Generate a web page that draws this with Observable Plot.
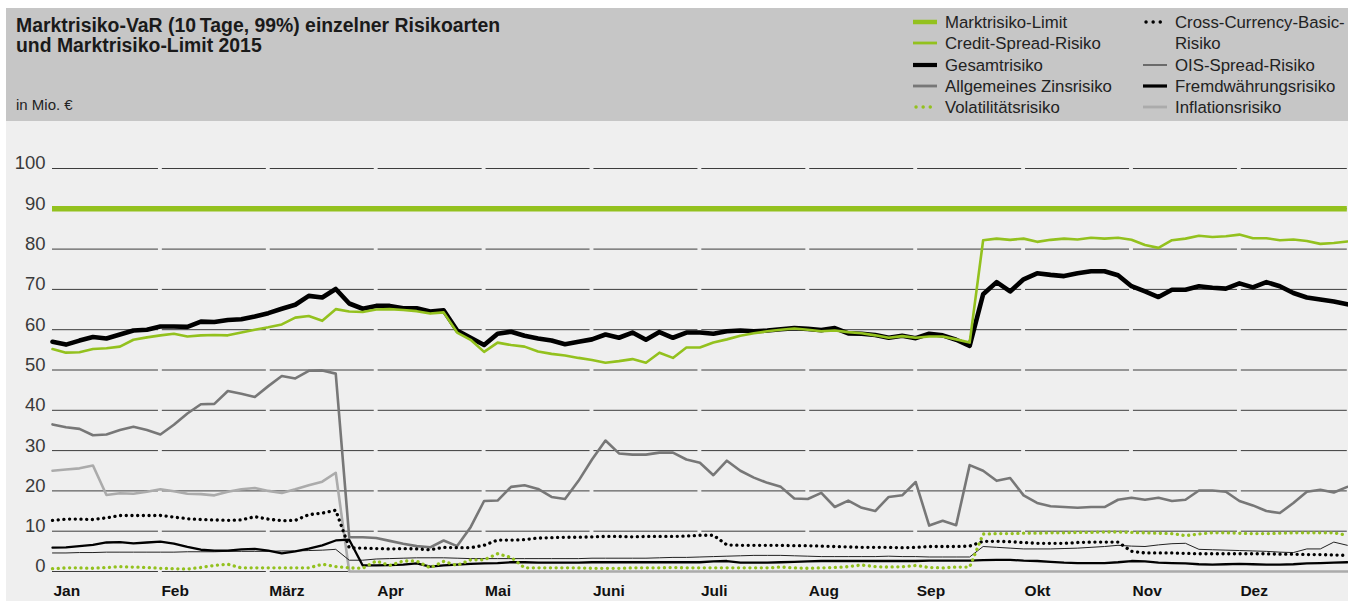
<!DOCTYPE html>
<html><head><meta charset="utf-8">
<script src="https://cdn.jsdelivr.net/npm/d3@7"></script>
<script src="https://cdn.jsdelivr.net/npm/@observablehq/plot@0.6"></script>
<style>
html,body{margin:0;padding:0;background:#fff;}
body{width:1348px;height:601px;overflow:hidden;font-family:"Liberation Sans",Arial,sans-serif;position:relative;}
#panel{position:absolute;left:6px;top:8px;width:1342px;}
#header{position:relative;height:113px;background:#c6c6c6;}
#title{position:absolute;left:10px;top:7px;font-weight:bold;font-size:19.4px;line-height:20px;color:#1a1a1a;white-space:nowrap;}
#unit{position:absolute;left:10px;top:88px;font-size:15px;line-height:18px;color:#222;}
.item{position:absolute;white-space:nowrap;height:21px;line-height:21px;font-size:16.8px;color:#222;}
.item svg{position:absolute;left:0;top:5px;}
.item span{position:absolute;left:32px;top:0;}
#chart svg{display:block;}
</style></head>
<body>
<div id="panel">
  <div id="header">
    <div id="title">Marktrisiko-VaR (10&#8201;Tage, 99%) einzelner Risikoarten<br>und Marktrisiko-Limit 2015</div>
    <div id="unit">in Mio. €</div>
    <div id="legend"></div>
  </div>
  <div id="chart"></div>
</div>
<script>
// ---------- data ----------
const months = ["Jan","Feb","März","Apr","Mai","Juni","Juli","Aug","Sep","Okt","Nov","Dez"];
const pointsPerMonth = 8; // values sampled every 1/8 month
const yTicks = [0,10,20,30,40,50,60,70,80,90,100];
const limit = 90;

const gesamt = [57.0,56.3,57.3,58.2,57.8,58.8,59.8,60.0,60.8,60.8,60.7,62.0,61.9,62.4,62.6,63.3,64.1,65.2,66.2,68.4,68.0,70.1,66.5,65.2,65.9,65.9,65.3,65.3,64.5,64.8,59.8,58.0,
56.2,59.0,59.5,58.5,57.8,57.3,56.4,57.0,57.6,58.8,58.0,59.3,57.5,59.4,58.0,59.3,59.3,59.0,59.6,59.8,59.6,59.8,60.1,60.4,60.2,59.9,60.4,59.1,59.0,58.7,58.0,58.5,
57.9,59.0,58.6,57.5,56.0,68.8,71.8,69.5,72.5,74.0,73.6,73.3,74.0,74.5,74.5,73.5,70.8,69.5,68.1,69.9,69.9,70.8,70.4,70.2,71.5,70.5,71.8,70.8,69.1,68.0,67.5,67.0,66.3];

const credit = [55.2,54.3,54.4,55.2,55.4,55.8,57.5,58.1,58.6,59.0,58.3,58.6,58.7,58.6,59.3,60.0,60.6,61.3,63.0,63.4,62.2,65.1,64.5,64.4,65.0,65.1,64.9,64.6,64.0,64.3,59.3,57.5,
54.5,56.8,56.2,55.8,54.6,54.0,53.6,53.0,52.5,51.8,52.2,52.7,51.8,54.3,53.0,55.6,55.6,56.8,57.6,58.5,59.1,59.6,60.0,60.3,60.0,59.6,59.8,59.4,59.1,58.6,58.0,58.4,
58.0,58.3,58.3,57.6,56.8,82.2,82.6,82.3,82.6,81.8,82.3,82.6,82.4,82.8,82.6,82.8,82.3,81.0,80.3,82.2,82.6,83.3,83.0,83.2,83.6,82.7,82.7,82.2,82.4,82.0,81.3,81.5,81.9];

const zins = [36.5,35.8,35.4,33.8,34.0,35.1,35.9,35.1,34.0,36.4,39.2,41.5,41.6,44.8,44.1,43.3,46.0,48.5,47.9,49.8,49.9,49.1,8.5,8.5,8.3,7.6,6.9,6.3,6.0,7.7,6.3,11.0,
17.5,17.6,21.0,21.4,20.5,18.5,18.0,22.5,27.8,32.5,29.3,29.0,29.0,29.5,29.5,27.8,27.0,23.9,27.5,25.0,23.3,22.0,21.0,18.1,18.0,19.5,16.0,17.6,15.8,15.0,18.5,18.9,
22.2,11.4,12.6,11.5,26.4,25.0,22.5,23.2,18.9,17.0,16.2,16.0,15.8,16.0,16.0,17.8,18.3,17.8,18.3,17.5,17.8,20.1,20.1,19.8,17.5,16.4,15.0,14.5,17.0,19.8,20.3,19.6,21.0];

const inflation = [25.0,25.3,25.6,26.3,19.0,19.4,19.3,19.8,20.4,19.9,19.3,19.2,18.9,19.8,20.4,20.7,20.0,19.5,20.4,21.4,22.3,24.5,0,0,0,0,0,0,0,0,0,0,
0,0,0,0,0,0,0,0,0,0,0,0,0,0,0,0,0,0,0,0,0,0,0,0,0,0,0,0,0,0,0,0,
0,0,0,0,0,0,0,0,0,0,0,0,0,0,0,0,0,0,0,0,0,0,0,0,0,0,0,0,0,0,0,0,0];

const crossCurrency = [12.7,13.0,13.0,12.9,13.3,13.9,13.9,13.9,13.9,13.5,13.1,12.9,12.8,12.7,12.8,13.6,13.0,12.6,12.7,14.1,14.5,15.2,5.9,5.8,5.7,5.6,5.7,5.6,5.4,6.0,5.9,5.9,
6.5,7.8,7.8,7.9,8.3,8.4,8.5,8.5,8.6,8.7,8.7,8.6,8.7,8.7,8.7,8.8,9.0,9.0,6.6,6.5,6.5,6.5,6.5,6.4,6.4,6.3,6.2,6.1,6.0,6.0,6.0,5.9,
6.0,6.2,6.2,6.2,6.3,7.5,7.5,7.4,7.2,7.0,7.0,7.0,7.2,7.3,7.3,7.3,5.0,4.6,4.6,4.6,4.5,4.4,4.4,4.4,4.4,4.4,4.4,4.3,4.3,4.2,4.2,4.1,4.0];

const ois = [4.6,4.6,4.7,4.7,4.8,4.8,4.8,4.8,4.8,4.8,4.9,4.9,4.9,5.0,5.0,5.0,5.0,5.1,5.1,5.2,5.3,5.5,2.8,2.8,3.1,3.2,3.3,3.4,3.4,3.4,3.3,3.2,
3.2,3.2,3.2,3.2,3.2,3.2,3.2,3.2,3.3,3.3,3.3,3.3,3.3,3.4,3.5,3.5,3.6,3.7,3.8,3.9,4.0,4.0,4.0,3.9,3.8,3.7,3.7,3.7,3.7,3.7,3.8,3.7,
3.7,3.6,3.6,3.6,3.6,6.2,6.0,5.8,5.6,5.6,5.6,5.7,5.8,6.0,6.2,6.5,6.3,6.2,6.6,6.9,7.0,5.5,5.4,5.3,5.2,5.1,5.0,4.8,4.7,5.6,5.6,7.3,6.5];

const fremd = [5.9,6.0,6.3,6.6,7.2,7.3,7.0,7.2,7.4,6.9,6.1,5.4,5.2,5.2,5.5,5.6,5.2,4.5,5.0,5.7,6.5,7.7,7.9,1.5,1.5,1.6,1.7,2.0,1.2,1.5,1.7,1.9,
2.0,2.1,2.3,2.3,2.2,2.2,2.2,2.2,2.3,2.3,2.3,2.3,2.3,2.3,2.3,2.3,2.3,2.5,2.6,2.2,2.2,2.2,2.3,2.4,2.5,2.6,2.6,2.6,2.6,2.6,2.6,2.6,
2.6,2.7,2.7,2.7,2.7,2.8,2.9,2.9,2.7,2.6,2.4,2.2,2.1,2.1,2.1,2.3,2.6,2.5,2.2,2.1,2.0,1.8,1.7,1.8,1.9,1.8,1.7,1.7,1.8,2.0,2.1,2.2,2.3];

const vola = [0.7,0.9,0.9,0.8,1.0,1.2,1.1,1.0,0.8,0.7,0.6,1.0,1.5,1.8,0.9,0.9,0.9,0.9,0.9,0.9,1.8,1.2,0.9,0.8,2.6,1.5,2.6,2.6,0.9,2.5,1.5,2.9,
2.9,4.4,3.5,0.9,0.9,0.9,0.9,0.9,0.8,0.8,0.8,0.9,0.9,0.9,1.0,0.9,0.9,0.9,0.9,0.9,0.9,0.9,1.1,0.9,0.8,0.9,1.0,1.2,1.6,1.2,1.1,1.2,
1.5,1.0,0.9,1.1,1.1,9.3,9.4,9.4,9.5,9.5,9.6,9.6,9.7,9.7,9.8,9.8,9.7,9.6,9.5,9.4,8.9,9.3,9.6,9.6,9.5,9.4,9.4,9.5,9.6,9.6,9.6,9.6,9.0];

// ---------- styles ----------
const GREEN = "#93c11e";
const styles = {
  limit:     {stroke: GREEN, strokeWidth: 5.5},
  credit:    {stroke: GREEN, strokeWidth: 2.6},
  gesamt:    {stroke: "#000", strokeWidth: 4.6},
  zins:      {stroke: "#777", strokeWidth: 2.6},
  vola:      {stroke: GREEN, strokeWidth: 3.3, strokeDasharray: "0.1,5.6", strokeLinecap: "round"},
  ccb:       {stroke: "#000", strokeWidth: 3.3, strokeDasharray: "0.1,5.6", strokeLinecap: "round"},
  ois:       {stroke: "#222", strokeWidth: 1},
  fremd:     {stroke: "#000", strokeWidth: 2.3},
  inflation: {stroke: "#ababab", strokeWidth: 2.6}
};

// ---------- legend ----------
const legendItems = [
  {label: "Marktrisiko-Limit", key: "limit", col: 0, row: 0},
  {label: "Credit-Spread-Risiko", key: "credit", col: 0, row: 1},
  {label: "Gesamtrisiko", key: "gesamt", col: 0, row: 2},
  {label: "Allgemeines Zinsrisiko", key: "zins", col: 0, row: 3},
  {label: "Volatilitätsrisiko", key: "vola", col: 0, row: 4},
  {label: "Cross-Currency-Basic-<br>Risiko", key: "ccb", col: 1, row: 0},
  {label: "OIS-Spread-Risiko", key: "ois", col: 1, row: 2},
  {label: "Fremdwährungsrisiko", key: "fremd", col: 1, row: 3},
  {label: "Inflationsrisiko", key: "inflation", col: 1, row: 4}
];
const colX = [907, 1137];
const rowTop = [4.1, 25.3, 46.6, 67.8, 89.1];
const legend = document.getElementById("legend");
for (const it of legendItems) {
  const s = styles[it.key];
  const div = document.createElement("div");
  div.className = "item";
  div.style.left = colX[it.col] + "px";
  div.style.top = rowTop[it.row] + "px";
  let sw;
  if (s.strokeDasharray) {
    sw = `<line x1="3" y1="5" x2="22" y2="5" stroke="${s.stroke}" stroke-width="3.4" stroke-dasharray="0.1,7" stroke-linecap="round"/>`;
  } else {
    const w = it.key === "fremd" ? 3.2 : it.key === "ois" ? 1.1 : it.key === "limit" ? 4.5 : it.key === "gesamt" ? 4.2 : 2.8;
    sw = `<line x1="0" y1="5" x2="24" y2="5" stroke="${s.stroke}" stroke-width="${w}"/>`;
  }
  div.innerHTML = `<svg width="24" height="10">${sw}</svg><span style="line-height:21px">${it.label}</span>`;
  legend.appendChild(div);
}

// ---------- chart ----------
const xOf = (d, i) => i / pointsPerMonth;
const gap = 0.018;
const gridData = yTicks.flatMap(v => months.map((m, i) => ({v, i})));
const monthIdx = months.map((m, i) => i);

const series = [
  ["inflation", inflation], ["zins", zins], ["ois", ois], ["fremd", fremd],
  ["ccb", crossCurrency], ["vola", vola], ["gesamt", gesamt], ["credit", credit]
];

const chart = Plot.plot({
  width: 1342, height: 480,
  marginLeft: 46, marginRight: 1.2, marginTop: 47, marginBottom: 30,
  x: {domain: [0, 12], label: null},
  y: {domain: [0, 100], label: null},
  style: {background: "#efefef", fontFamily: "'Liberation Sans', Arial, sans-serif", overflow: "visible"},
  marks: [
    Plot.ruleY(gridData, {y: "v", x1: d => d.i === 0 ? 0 : d.i + gap, x2: d => d.i === 11 ? 12 : d.i + 1 - gap, stroke: "#3c3c3c", strokeWidth: 1}),
    Plot.axisY(yTicks, {tickSize: 0, tickPadding: 7, fontSize: 18.5, dy: -5, fill: "#3a3a3a", tickFormat: d => String(d)}),
    Plot.axisX(monthIdx, {tickSize: 0, tickPadding: 13, fontSize: 15.5, fontWeight: "bold", fill: "#111", textAnchor: "start", dx: 1, tickFormat: i => months[i]}),
    ...series.map(([k, vals]) => Plot.lineY(vals, {x: xOf, y: d => d, ...styles[k], strokeLinejoin: "round", strokeLinecap: styles[k].strokeLinecap || "round"})),
    Plot.ruleY([limit], {y: d => d, x1: () => 0, x2: () => 12, ...styles.limit, strokeLinecap: "butt"})
  ]
});
document.getElementById("chart").appendChild(chart);
</script>
</body></html>
